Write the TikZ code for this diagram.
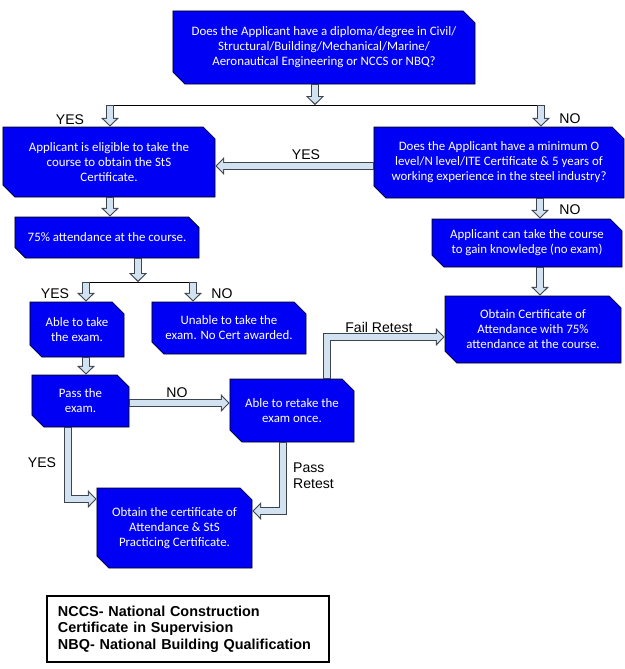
\documentclass[tikz,border=0pt]{standalone}
\usepackage{fontspec}
\setmainfont{Carlito}
\newfontfamily\labelfont{Liberation Sans}
\usetikzlibrary{positioning,arrows.meta,shapes.misc}
\definecolor{boxblue}{HTML}{0000F5}
\definecolor{arrowfill}{HTML}{D3E2F0}
\definecolor{arrowline}{HTML}{3C4450}

\begin{document}
\begin{tikzpicture}[x=0.03cm, y=-0.03cm,
  flowbox/.style={chamfered rectangle, chamfered rectangle corners={north east,south west},
    chamfered rectangle xsep=5pt, chamfered rectangle ysep=5pt, inner sep=0pt,
    fill=boxblue, draw=black, line width=0.5pt, text=white, align=center,
    font=\fontsize{11}{12.8}\selectfont},
  flowarrow/.style={draw=arrowline, line width=7.6pt, line join=miter,
    -{Triangle[length=7.6pt, width=15.3pt, line width=0pt]},
    postaction={draw=arrowfill, line width=5.8pt, line join=miter, shorten >=1.3pt, shorten <=0.9pt,
      -{Triangle[length=5.4pt, width=10.9pt, line width=0pt]}}},
  splitline/.style={draw=black, line width=0.8pt},
  answer/.style={font=\labelfont\fontsize{12}{14}\selectfont, text=black, inner sep=0pt}]
\useasboundingbox (0,0) rectangle (625,669);

% boxes
\node[flowbox, minimum width=9.06cm, minimum height=2.19cm] (q1) at (324,47.5) {Does the Applicant have a diploma/degree in Civil/\\Structural/Building/Mechanical/Marine/\\Aeronautical Engineering or NCCS or NBQ?};
\node[flowbox, minimum width=6.36cm, minimum height=2.1cm] (elig) at (109,162) {Applicant is eligible to take the\\course to obtain the StS\\Certificate.};
\node[flowbox, minimum width=7.5cm, minimum height=2.13cm] (q2) at (499,162.5) {Does the Applicant have a minimum O\\level/N level/ITE Certificate \& 5 years of\\working experience in the steel industry?};
\node[flowbox, minimum width=5.52cm, minimum height=1.23cm] (att) at (107,237.5) {75\% attendance at the course.};
\node[flowbox, minimum width=2.82cm, minimum height=1.65cm] (able) at (77,329.5) {Able to take\\the exam.};
\node[flowbox, minimum width=4.62cm, minimum height=1.56cm] (unable) at (229,328) {Unable to take the\\exam. No Cert awarded.};
\node[flowbox, minimum width=2.91cm, minimum height=1.56cm] (pass) at (80.5,401) {Pass the\\exam.};
\node[flowbox, minimum width=3.72cm, minimum height=1.89cm] (retake) at (292,410.5) {Able to retake the\\exam once.};
\node[flowbox, minimum width=5.7cm, minimum height=1.44cm] (know) at (527,243) {Applicant can take the course\\to gain knowledge (no exam)};
\node[flowbox, minimum width=5.28cm, minimum height=2.01cm] (attcert) at (533,329.5) {Obtain Certificate of\\Attendance with 75\%\\attendance at the course.};
\node[flowbox, minimum width=4.65cm, minimum height=2.4cm] (cert) at (174.5,528) {Obtain the certificate of\\Attendance \& StS\\Practicing Certificate.};

% split points
\coordinate (s1) at (315,105);
\coordinate (s1l) at (110,105);
\coordinate (s1r) at (541,105);
\coordinate (s2) at (138,282);
\coordinate (s2l) at (86,282);
\coordinate (s2r) at (193,282);
\coordinate (yq) at (0,166);
\coordinate (yno) at (0,403);
\coordinate (xr) at (540,0);
\coordinate (fr) at (327,337);
\coordinate (yy) at (68,499);
\coordinate (pr) at (283,511);

% connectors
\draw[splitline] (s1l) -- (s1r);
\draw[splitline] (s2l) -- (s2r);
\draw[flowarrow] (q1.south -| s1) -- (s1);
\draw[flowarrow] (s1l) -- (elig.north -| s1l);
\draw[flowarrow] (s1r) -- (q2.north -| s1r);
\draw[flowarrow] (q2.west |- yq) -- (elig.east |- yq);
\draw[flowarrow] (elig.south -| s1l) -- (att.north -| s1l);
\draw[flowarrow] (att.south -| s2) -- (s2);
\draw[flowarrow] (s2l) -- (able.north -| s2l);
\draw[flowarrow] (s2r) -- (unable.north -| s2r);
\draw[flowarrow] (able.south -| s2l) -- (pass.north -| s2l);
\draw[flowarrow] (pass.east |- yno) -- (retake.west |- yno);
\draw[flowarrow] (retake.north -| fr) |- (attcert.west |- fr);
\draw[flowarrow] (q2.south -| xr) -- (know.north -| xr);
\draw[flowarrow] (know.south -| xr) -- (attcert.north -| xr);
\draw[flowarrow] (pass.south -| yy) |- (cert.west |- yy);
\draw[flowarrow] (retake.south -| pr) |- (cert.east |- pr);

% answers
\node[answer] (yes1) at (70,120) {YES};
\node[answer] (no1) at (570,119) {NO};
\node[answer] (yes2) at (306,155) {YES};
\node[answer] (no2) at (570,210) {NO};
\node[answer] (yes3) at (55,294) {YES};
\node[answer] (no3) at (222,294) {NO};
\node[answer] (no4) at (177,393) {NO};
\node[answer] (fail) at (379,327) {Fail Retest};
\node[answer] (yes4) at (42,463) {YES};
\node[answer, anchor=west, align=left] (passre) at (293,476) {Pass\\Retest};

% legend
\node[draw=black, line width=1.7pt, minimum width=8.46cm, minimum height=1.98cm, inner xsep=0.33cm,
  text width=7.8cm, align=left, font=\labelfont\bfseries\fontsize{12.3}{14.2}\selectfont] (legend) at (188,629)
  {NCCS- National Construction\\Certificate in Supervision\\NBQ- National Building Qualification};
\end{tikzpicture}
\end{document}
